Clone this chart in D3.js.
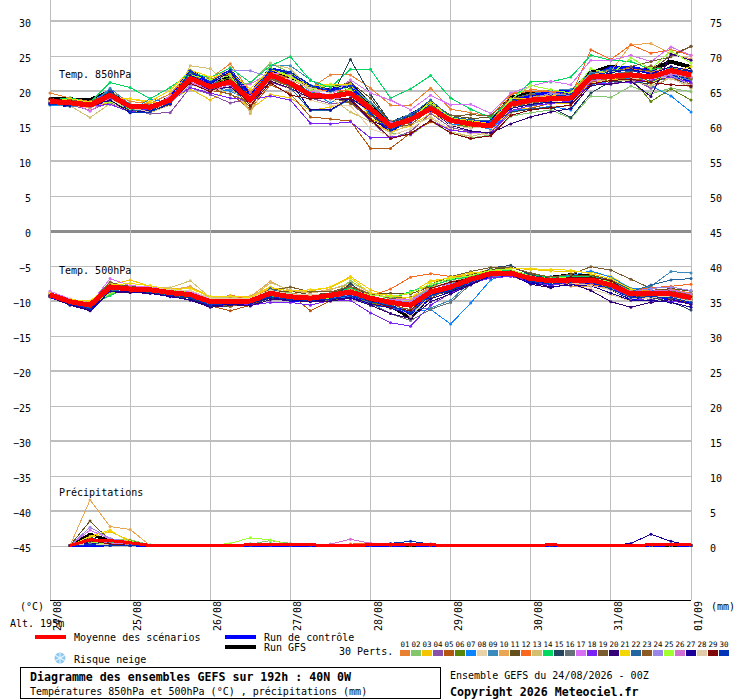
<!DOCTYPE html>
<html>
<head>
<meta charset="utf-8">
<title>Diagramme des ensembles GEFS</title>
<script src="https://cdn.jsdelivr.net/npm/d3@7"></script>
<style>
  html, body { margin: 0; padding: 0; background: #fff; }
  svg { display: block; }
  text { font-family: "DejaVu Sans Mono", "Liberation Mono", monospace; font-size: 10px; fill: #000; }
  .bold { font-weight: bold; font-size: 11.6px; }
</style>
</head>
<body>
<div id="chart"></div>
<script>
// date labels, one every 24h (4 steps of 6h)
var days = ["24/08", "25/08", "26/08", "27/08", "28/08", "29/08", "30/08", "31/08", "01/09"];

var memberColors = ["#e8802f", "#84c66c", "#f2c500", "#8a4fa8", "#b5560f", "#5a8508", "#0a85ff", "#e8d3a8", "#3a8bbb", "#eaa653",
  "#644f1e", "#fa6820", "#d2bf70", "#00d860", "#24455f", "#66727a", "#d870f5", "#7a22f5", "#7a5c2e", "#330077",
  "#f2d800", "#2166a0", "#8c5a22", "#9a85e8", "#a0ff30", "#d070d0", "#1a0099", "#e0caa8", "#800808", "#0033b8"];

var mean850 = [18.5,18.3,18.0,19.4,17.8,17.7,18.7,21.8,20.6,21.3,18.7,22.3,21.1,19.4,19.2,19.7,17.5,15.0,15.9,17.5,15.8,15.3,15.0,18.1,18.7,18.9,19.0,22.0,22.1,22.3,22.0,22.9,22.3];
var control850 = [18.2,18.0,18.1,20.0,17.1,17.3,18.9,22.8,21.2,22.8,19.4,23.1,22.5,20.6,20.0,21.0,17.0,14.2,16.6,17.8,16.0,15.7,15.4,18.5,19.4,19.7,19.9,22.0,23.3,23.3,22.8,22.0,21.6];
var gfs850 = [18.8,18.8,18.7,19.9,17.4,17.3,19.1,22.0,21.0,22.0,18.3,22.8,22.0,20.5,20.1,20.9,18.0,15.4,16.5,18.2,16.0,15.3,15.6,19.0,19.7,19.9,19.8,22.6,23.5,23.0,23.0,24.2,23.4];

var members850 = [
  [19.7,19.0,18.5,19.9,18.5,18.2,19.6,22.7,21.8,23.9,19.8,22.8,21.6,20.4,22.3,22.3,20.4,18.0,18.0,20.4,17.4,16.9,16.4,19.6,20.2,20.0,19.8,22.6,23.0,23.2,22.7,23.4,22.8],
  [18.4,19.0,18.2,18.5,17.4,17.5,18.2,21.4,20.4,21.0,21.1,24.0,22.6,20.8,20.6,20.9,18.2,14.0,13.7,15.7,14.0,13.3,13.7,16.4,16.9,17.3,16.1,19.3,19.1,20.7,19.6,20.4,19.9],
  [18.7,18.4,17.7,18.4,18.9,18.3,18.6,20.3,18.7,20.4,17.4,19.5,19.0,17.2,17.7,18.6,15.6,14.2,15.0,16.8,15.3,14.9,14.7,17.2,17.6,18.2,18.2,21.2,21.6,21.8,21.4,22.8,22.0],
  [18.5,18.0,17.3,18.3,17.1,16.8,16.9,20.5,19.5,18.3,18.9,21.3,20.3,19.0,18.2,18.4,15.7,13.2,14.2,16.8,14.8,14.2,13.8,17.0,18.0,18.2,18.6,21.4,21.0,21.8,20.4,22.0,21.0],
  [18.9,18.4,17.9,19.1,17.6,17.5,18.2,21.2,20.1,19.6,17.4,20.9,19.6,16.3,16.0,15.7,11.8,11.8,14.0,15.6,14.5,14.0,14.1,16.9,17.5,18.3,18.5,21.3,21.8,21.7,21.5,21.8,21.0],
  [18.6,18.5,18.3,19.6,18.0,17.8,18.9,22.4,21.0,21.9,18.9,22.6,21.5,19.8,19.4,20.4,17.9,15.0,15.9,17.9,15.3,14.8,14.8,18.1,18.5,18.8,19.4,21.8,21.4,21.9,18.5,20.3,18.7],
  [18.0,17.9,18.1,20.1,17.1,18.9,18.2,21.5,20.4,20.0,18.5,21.8,20.8,20.0,18.3,20.0,16.5,14.6,15.7,17.6,15.2,15.3,14.5,17.2,17.4,17.8,17.3,20.9,21.4,21.8,20.7,19.3,17.0],
  [18.3,18.1,17.5,18.8,17.5,17.2,18.2,21.0,19.9,20.6,18.0,21.6,20.3,18.7,18.0,17.9,14.6,13.6,14.6,16.4,14.5,13.9,13.8,17.6,18.2,18.5,18.3,21.1,21.5,21.7,22.0,23.0,20.6],
  [18.1,17.8,18.0,20.4,18.1,18.0,18.6,21.9,20.5,20.2,18.7,23.6,23.6,21.6,19.8,20.8,18.4,15.6,16.7,18.2,15.9,15.2,15.1,18.9,19.6,20.1,20.2,22.6,22.9,22.4,21.1,22.1,21.6],
  [18.5,18.2,17.6,19.2,17.9,18.0,18.9,22.9,21.4,23.4,16.8,22.2,21.1,19.6,19.4,19.3,17.0,15.7,16.3,17.8,15.9,15.6,15.1,18.0,19.1,19.4,19.6,22.4,22.8,26.6,26.8,25.3,24.6],
  [18.7,18.6,18.2,19.4,17.6,17.8,18.7,21.5,20.8,21.1,18.2,22.4,22.0,20.5,20.6,21.2,19.0,15.4,16.2,18.5,16.5,16.1,16.2,18.6,19.0,18.9,19.4,21.6,22.0,22.8,22.9,25.1,26.4],
  [18.6,18.1,17.8,19.5,18.0,17.9,19.1,22.2,21.7,22.5,19.2,22.7,21.7,20.3,20.0,20.1,17.3,15.6,16.0,17.7,16.0,15.4,15.3,19.5,20.0,19.9,19.2,25.9,24.5,26.6,25.4,25.9,25.1],
  [18.2,17.9,16.2,18.2,17.2,16.9,18.0,23.6,23.2,20.6,17.0,23.9,23.2,20.2,19.0,17.0,15.6,14.0,15.2,16.2,14.2,13.5,14.2,16.9,17.4,17.7,17.9,21.5,21.4,21.5,20.7,21.9,20.4],
  [18.7,19.0,18.4,21.2,20.5,18.9,20.5,22.6,21.9,23.3,21.2,23.6,24.9,21.5,20.5,23.1,23.1,19.0,20.3,22.2,19.0,17.4,16.2,18.7,21.3,21.3,22.0,25.1,24.4,24.2,23.1,23.3,22.6],
  [18.4,18.1,18.0,20.0,17.8,17.4,18.9,22.7,21.5,22.3,18.8,22.9,22.5,19.3,18.9,24.5,19.5,15.5,16.4,18.0,15.8,15.3,15.2,17.0,17.4,17.7,16.2,19.7,21.4,21.2,21.1,22.2,20.6],
  [18.5,18.3,18.0,19.6,17.7,17.5,18.5,21.2,20.2,21.2,18.6,21.9,20.7,19.2,19.1,19.6,17.0,14.7,15.5,17.5,15.5,15.1,14.9,17.9,18.5,18.9,19.1,22.2,22.4,22.5,21.9,22.4,21.8],
  [18.8,18.5,17.1,19.0,17.4,17.6,19.3,21.1,20.5,20.5,21.0,22.6,22.3,20.0,19.4,21.6,19.7,18.7,17.3,19.4,18.0,18.1,16.8,19.7,20.7,21.4,20.9,24.4,24.4,25.1,24.2,26.3,25.1],
  [18.3,18.0,17.8,18.1,17.0,17.5,18.5,20.5,19.7,19.0,18.7,19.3,18.7,15.4,15.3,15.6,13.3,13.4,13.8,15.8,14.4,14.1,14.0,17.2,17.9,18.2,18.6,21.0,21.1,21.2,21.6,22.0,21.2],
  [18.9,18.7,18.4,19.8,17.9,17.9,18.5,22.0,20.9,21.0,17.6,22.0,21.4,19.4,19.1,18.4,15.9,15.0,15.4,18.0,16.5,16.6,16.5,18.9,19.5,19.2,19.9,21.8,22.6,23.5,24.2,24.9,26.4],
  [18.4,18.0,17.8,18.6,17.2,17.1,18.1,21.6,20.1,20.6,18.3,21.4,20.4,19.0,18.9,18.7,15.8,14.6,15.9,17.3,15.1,14.3,14.0,15.3,16.3,17.0,17.5,20.8,21.0,21.4,19.2,25.3,24.4],
  [18.6,18.9,18.4,19.0,18.9,18.5,20.1,23.0,22.0,22.6,20.3,23.1,22.0,20.6,21.0,21.0,16.0,15.1,15.9,18.6,16.2,15.8,15.3,18.9,18.9,19.3,19.4,22.4,21.7,22.6,21.1,22.6,23.5],
  [18.3,18.1,18.1,19.9,17.3,17.2,18.7,22.5,20.7,22.9,19.0,22.5,20.5,17.2,17.2,18.9,17.3,15.6,16.6,18.7,16.3,15.9,15.7,17.9,17.9,18.7,18.6,22.4,23.2,22.7,21.3,22.6,21.9],
  [18.7,18.5,18.0,19.5,17.9,17.8,18.8,21.8,20.4,19.5,18.4,21.7,20.6,19.5,19.1,18.2,16.5,14.7,15.2,17.3,15.6,15.0,14.9,17.7,18.3,18.6,18.9,22.0,22.3,22.7,23.6,23.0,21.7],
  [18.5,18.3,17.9,19.0,17.7,17.4,18.3,20.8,20.8,22.9,22.9,21.9,21.5,19.1,19.2,19.4,17.7,15.2,15.6,17.2,15.9,15.5,15.2,18.3,18.9,19.7,19.3,21.7,22.2,22.4,21.9,22.2,20.8],
  [18.6,18.4,18.3,18.4,17.5,17.8,18.5,22.3,21.6,22.2,18.2,23.3,22.1,20.2,20.9,20.1,16.8,15.2,16.1,18.3,16.2,15.6,15.3,18.8,20.8,20.2,19.7,23.2,22.4,24.7,23.2,25.7,24.0],
  [18.4,18.2,17.7,19.2,17.6,17.5,18.4,21.3,20.0,20.9,19.2,22.0,21.6,19.2,18.9,19.0,17.0,15.5,15.5,17.4,15.7,15.2,15.0,18.3,18.6,18.7,18.9,21.4,22.0,22.1,21.7,22.4,22.0],
  [18.2,17.9,17.9,18.7,16.9,17.2,18.2,22.2,21.0,22.8,18.6,22.6,21.3,17.3,17.3,19.0,17.1,14.8,15.6,17.2,15.6,15.2,15.0,17.5,18.1,18.4,18.3,21.9,22.6,23.1,22.4,23.5,22.9],
  [18.6,18.3,17.9,19.3,17.6,17.0,18.5,21.4,20.6,21.6,18.1,22.1,21.7,20.4,19.7,19.6,17.4,14.9,15.8,17.7,15.1,14.7,14.8,17.8,18.4,18.9,19.2,21.9,21.8,22.0,22.3,21.7,20.8],
  [18.9,18.6,18.2,19.8,17.7,17.6,18.6,21.1,19.9,21.5,17.9,21.2,19.4,18.9,19.1,18.9,16.0,13.2,13.9,15.8,14.0,13.2,13.6,16.5,17.3,17.6,18.0,21.0,21.5,21.7,21.2,20.9,20.7],
  [18.1,18.0,17.9,19.7,17.0,17.0,18.3,22.9,21.3,23.0,19.0,23.1,22.7,20.8,20.0,20.7,16.8,14.4,15.8,17.6,15.9,15.5,15.1,18.2,18.7,19.2,19.5,21.8,22.9,23.0,22.0,23.2,22.8]
];

var mean500 = [-9.1,-10.1,-10.6,-8.0,-8.3,-8.4,-8.8,-9.1,-10.1,-10.0,-10.0,-8.9,-9.4,-9.6,-9.2,-8.7,-9.6,-10.2,-10.6,-8.7,-8.0,-6.9,-6.1,-6.0,-6.8,-7.1,-7.0,-7.0,-7.7,-9.0,-8.9,-9.0,-9.5];
var control500 = [-9.3,-10.3,-11.2,-8.4,-8.5,-8.7,-9.0,-9.4,-10.5,-10.2,-10.3,-9.3,-9.8,-9.9,-9.6,-9.3,-10.0,-10.6,-11.8,-9.1,-8.3,-7.4,-6.4,-6.1,-7.3,-7.5,-7.2,-7.4,-8.2,-9.6,-9.3,-9.6,-10.1];
var gfs500 = [-9.0,-10.2,-10.9,-8.2,-8.6,-8.4,-8.9,-9.0,-10.1,-10.1,-9.8,-9.0,-9.5,-9.5,-9.3,-9.0,-9.9,-10.6,-12.4,-9.0,-7.9,-6.6,-6.0,-5.8,-6.6,-6.7,-6.3,-6.5,-7.4,-8.7,-8.9,-8.8,-9.2];

var members500 = [
  [-9.0,-10.0,-10.4,-7.7,-8.0,-8.1,-8.7,-8.6,-9.8,-9.2,-9.6,-8.2,-8.9,-9.2,-8.9,-8.2,-9.1,-9.4,-9.8,-7.9,-7.0,-6.4,-5.8,-5.6,-6.3,-6.7,-6.5,-6.6,-7.4,-8.6,-8.5,-8.3,-8.9],
  [-9.2,-10.1,-10.8,-9.0,-8.4,-8.3,-8.7,-9.5,-10.3,-10.2,-10.0,-8.4,-8.8,-9.9,-9.4,-7.1,-8.9,-9.6,-9.9,-8.0,-7.4,-6.4,-5.4,-5.7,-6.5,-6.8,-6.8,-6.9,-7.5,-8.8,-8.7,-8.7,-9.1],
  [-8.9,-9.9,-10.1,-7.7,-7.0,-7.9,-8.3,-8.0,-9.4,-9.4,-9.3,-8.0,-8.7,-8.6,-8.0,-6.5,-8.4,-9.4,-8.9,-7.1,-6.7,-6.2,-5.5,-5.3,-5.5,-5.7,-5.8,-5.9,-6.5,-8.2,-8.8,-9.1,-9.8],
  [-9.3,-10.3,-10.7,-8.3,-8.4,-8.7,-9.1,-9.4,-10.3,-10.3,-10.4,-9.6,-9.8,-9.5,-9.5,-9.2,-10.2,-11.0,-11.5,-9.2,-8.4,-7.3,-6.5,-6.3,-7.2,-7.6,-7.5,-7.4,-7.9,-9.4,-9.8,-9.4,-9.9],
  [-9.1,-10.4,-10.9,-8.3,-8.8,-8.5,-9.0,-9.6,-10.7,-11.4,-10.6,-9.4,-9.0,-11.4,-10.0,-9.6,-10.4,-10.7,-10.6,-8.8,-7.6,-6.9,-6.2,-6.0,-6.6,-7.4,-7.2,-7.1,-8.0,-9.5,-9.2,-9.6,-10.2],
  [-9.2,-10.2,-10.5,-8.9,-8.2,-8.3,-8.8,-8.9,-10.0,-9.9,-9.5,-9.0,-9.8,-9.8,-9.9,-9.5,-10.3,-10.5,-10.7,-9.1,-7.9,-7.2,-6.2,-5.9,-7.0,-7.1,-6.9,-7.3,-8.1,-9.5,-9.3,-9.2,-9.7],
  [-9.3,-10.5,-11.1,-8.5,-8.6,-8.8,-9.2,-9.4,-10.5,-10.0,-10.1,-9.1,-9.6,-9.8,-9.5,-9.4,-10.6,-10.9,-11.6,-11.2,-13.3,-10.3,-7.0,-5.9,-6.5,-6.5,-6.4,-5.7,-6.6,-8.2,-8.4,-8.8,-9.6],
  [-9.0,-10.0,-10.5,-8.1,-8.4,-8.2,-8.6,-8.6,-9.7,-9.8,-10.3,-8.6,-9.0,-9.2,-9.0,-8.4,-9.4,-10.0,-10.2,-8.6,-7.6,-6.9,-6.3,-6.1,-7.0,-7.4,-7.8,-8.3,-9.1,-10.0,-9.5,-9.3,-9.5],
  [-9.0,-10.2,-10.7,-8.2,-8.3,-8.5,-8.8,-9.2,-10.2,-9.9,-9.8,-8.6,-9.2,-9.4,-9.3,-9.0,-10.0,-10.8,-11.2,-11.0,-9.9,-7.3,-6.0,-5.8,-6.5,-6.8,-6.6,-6.4,-7.1,-8.5,-7.9,-5.8,-6.0],
  [-8.8,-9.9,-10.3,-7.6,-8.0,-8.1,-8.5,-7.9,-9.6,-9.7,-9.4,-7.2,-8.6,-8.9,-8.3,-7.7,-9.0,-9.7,-9.5,-8.1,-7.3,-6.7,-6.0,-5.9,-6.7,-7.0,-7.9,-7.9,-8.2,-9.1,-9.1,-8.9,-9.6],
  [-9.1,-10.0,-10.2,-7.4,-7.9,-8.2,-8.7,-9.2,-10.0,-9.7,-9.6,-8.6,-8.6,-9.1,-8.9,-8.0,-9.0,-8.9,-9.0,-7.9,-6.9,-6.3,-5.5,-5.2,-6.1,-6.7,-6.4,-6.3,-7.0,-8.4,-8.7,-8.2,-8.6],
  [-9.0,-10.0,-10.3,-7.8,-8.2,-8.3,-8.6,-9.0,-9.7,-9.4,-9.7,-8.8,-9.1,-9.3,-9.0,-8.3,-9.3,-8.3,-6.6,-6.1,-6.5,-6.5,-5.9,-5.8,-6.4,-6.8,-7.6,-7.7,-7.8,-8.5,-8.1,-7.9,-7.6],
  [-8.9,-9.8,-10.2,-7.5,-8.1,-8.2,-8.1,-7.1,-9.5,-9.5,-9.7,-7.4,-8.4,-8.9,-8.4,-7.4,-8.8,-9.6,-10.0,-8.3,-7.2,-6.7,-6.2,-6.1,-6.8,-7.2,-7.1,-7.1,-7.7,-9.0,-8.8,-8.7,-9.3],
  [-9.2,-10.1,-10.6,-9.2,-8.0,-8.3,-8.9,-9.3,-10.2,-9.9,-9.9,-9.3,-9.3,-9.4,-9.1,-8.1,-9.5,-9.8,-8.6,-7.8,-7.0,-6.5,-5.7,-5.6,-6.3,-6.6,-6.5,-6.5,-7.2,-8.6,-8.9,-8.6,-9.0],
  [-9.4,-10.5,-11.2,-8.4,-8.7,-8.8,-9.3,-9.6,-10.8,-10.7,-10.6,-9.6,-9.9,-10.0,-9.8,-7.5,-9.6,-10.3,-10.9,-9.3,-8.6,-7.5,-5.3,-4.9,-6.3,-6.8,-6.9,-7.2,-8.0,-9.2,-9.5,-10.1,-11.3],
  [-9.2,-10.3,-10.8,-8.5,-8.5,-8.6,-9.0,-9.5,-10.4,-10.3,-10.2,-9.2,-9.7,-9.7,-9.4,-9.1,-10.3,-11.8,-12.8,-11.2,-10.2,-7.6,-6.4,-6.2,-6.9,-7.3,-7.2,-7.1,-7.8,-9.0,-9.1,-9.3,-9.9],
  [-8.6,-9.7,-10.4,-6.8,-7.8,-8.0,-8.4,-8.7,-9.6,-9.9,-9.9,-8.7,-9.4,-9.6,-9.4,-9.1,-9.7,-9.8,-9.8,-8.5,-7.7,-6.8,-6.1,-5.9,-6.8,-7.1,-6.8,-6.9,-7.5,-8.6,-8.9,-8.5,-9.2],
  [-9.1,-10.2,-10.8,-8.6,-8.5,-8.6,-9.1,-9.5,-10.4,-10.4,-10.6,-10.2,-10.2,-10.6,-9.9,-9.9,-11.7,-13.1,-13.6,-10.6,-8.9,-7.5,-6.7,-6.5,-7.2,-7.8,-7.3,-7.3,-8.0,-9.6,-10.0,-10.0,-10.4],
  [-9.0,-10.0,-10.3,-7.3,-8.1,-8.2,-8.7,-8.9,-10.0,-9.6,-9.8,-8.5,-8.0,-8.7,-8.7,-7.9,-9.0,-9.6,-9.5,-7.6,-6.5,-5.8,-5.2,-5.2,-6.0,-6.6,-6.2,-5.1,-5.6,-6.9,-8.2,-8.6,-9.1],
  [-9.4,-10.6,-11.4,-8.7,-8.8,-8.9,-9.3,-9.9,-10.9,-10.6,-10.7,-9.8,-9.9,-10.1,-10.0,-9.6,-10.6,-11.8,-12.5,-10.1,-9.0,-7.7,-6.3,-6.2,-7.6,-8.1,-7.5,-8.5,-10.1,-10.9,-10.2,-9.8,-10.5],
  [-8.9,-9.8,-10.0,-7.7,-7.5,-7.8,-8.4,-8.2,-9.4,-9.3,-9.5,-8.1,-8.6,-8.4,-8.1,-6.7,-8.9,-9.2,-9.6,-7.3,-6.6,-6.0,-5.8,-5.4,-5.4,-5.5,-5.6,-6.1,-6.8,-8.3,-8.8,-9.0,-9.4],
  [-9.2,-10.4,-11.0,-8.4,-8.6,-8.7,-9.1,-9.5,-10.6,-10.2,-10.3,-8.2,-9.4,-9.7,-9.5,-9.0,-10.1,-10.6,-10.7,-9.4,-8.1,-7.0,-6.2,-5.9,-7.0,-7.3,-6.9,-6.8,-7.4,-8.7,-7.7,-7.0,-6.8],
  [-9.1,-10.2,-10.5,-7.9,-8.4,-8.5,-8.9,-9.3,-10.3,-10.8,-10.1,-9.0,-9.3,-9.5,-9.5,-8.8,-9.8,-10.5,-11.3,-9.6,-8.2,-6.8,-6.0,-5.8,-6.9,-7.3,-7.0,-6.6,-7.3,-9.2,-9.4,-9.6,-10.1],
  [-9.1,-10.1,-10.7,-8.1,-8.3,-8.3,-8.6,-9.0,-9.9,-9.8,-9.7,-8.6,-9.3,-9.4,-9.1,-8.6,-9.5,-9.9,-10.1,-8.2,-7.5,-6.9,-6.2,-6.1,-6.8,-7.0,-6.8,-6.8,-7.5,-8.7,-8.2,-8.0,-8.5],
  [-9.3,-10.3,-10.7,-8.9,-8.2,-8.2,-8.5,-8.8,-9.9,-9.8,-10.3,-8.9,-9.6,-9.7,-9.6,-8.4,-9.2,-9.4,-8.8,-7.6,-6.8,-6.4,-5.6,-5.5,-6.5,-6.8,-6.6,-6.7,-7.3,-8.8,-8.9,-8.8,-9.3],
  [-9.2,-10.1,-10.5,-8.0,-8.2,-8.4,-8.9,-9.1,-9.8,-10.0,-9.9,-8.8,-9.2,-9.5,-9.1,-8.8,-9.7,-10.1,-10.3,-8.9,-8.1,-7.0,-6.2,-6.2,-6.7,-7.0,-6.9,-7.0,-7.6,-8.8,-8.6,-8.4,-9.0],
  [-9.3,-10.5,-11.3,-8.6,-8.7,-8.9,-9.4,-9.8,-10.7,-10.5,-10.4,-9.5,-9.9,-10.0,-9.8,-9.5,-10.4,-11.0,-12.0,-9.7,-8.7,-7.6,-6.4,-6.1,-7.3,-8.0,-7.7,-7.8,-8.9,-9.9,-9.9,-10.2,-10.9],
  [-9.0,-10.0,-10.4,-8.0,-8.3,-8.1,-8.4,-8.5,-9.6,-9.7,-9.6,-8.5,-9.0,-9.1,-9.0,-8.5,-9.4,-10.2,-12.2,-9.2,-8.0,-6.9,-6.3,-6.1,-6.7,-7.1,-7.4,-7.8,-8.4,-9.6,-9.5,-9.5,-10.0],
  [-9.2,-10.2,-10.6,-7.8,-8.6,-8.4,-8.8,-9.2,-10.2,-10.1,-10.2,-9.1,-9.7,-9.8,-9.4,-8.9,-10.0,-10.9,-11.4,-8.2,-7.3,-6.7,-6.0,-5.8,-6.6,-7.1,-6.6,-6.6,-7.1,-8.9,-9.0,-8.8,-9.4],
  [-9.3,-10.4,-11.1,-8.3,-8.5,-8.7,-9.1,-9.5,-10.6,-10.3,-10.3,-9.4,-9.8,-9.9,-9.7,-9.2,-10.1,-10.7,-11.7,-9.2,-8.4,-7.3,-6.3,-6.0,-7.2,-7.6,-7.3,-7.3,-8.3,-9.5,-9.4,-9.5,-10.2]
];

// rain in mm, first value is at +6h, rows stop at the last wet step
var meanRain = [0,0.8,0.7,0.4,0,0,0,0,0,0.1,0.1,0.1,0.1,0,0,0.1,0.1,0.1,0.1,0,0,0,0,0,0.1,0,0,0,0,0.1,0.1,0.1];
var controlRain = [0,0,0.1,0.1,0,0,0,0,0,0,0,0,0,0,0,0,0,0.1,0,0,0,0,0,0,0,0,0,0,0,0,0.1];
var gfsRain = [0,1.6,0.7,0.2,0,0,0,0,0,0,0,0.1];
var membersRain = [
  [0,0.6,0.4,0.2],
  [0,0.5,0.8,0.8,0.1,0,0,0,0,0.2,0.7,0.3],
  [0,1.1,2.0,0.7],
  [0,0.6,0.2],
  [0,0.3,0.2,0.1],
  [0,0.2,0.5,0.7],
  [0,0.2],
  [0,0.4,0.1],
  [0,0.5,0.3,0.1],
  [0,6.5,2.7,2.3],
  [0,3.5,0.7,0.3],
  [0,0.8,0.2,0.1,0,0,0,0,0,0,0,0,0,0,0.2,0.3,0.2],
  [0,0.4,0.2],
  [0,0.3,0.4,0.3,0,0,0,0,0,0.2,0.3],
  [0,1.2,0.3],
  [0,0.4],
  [0,2.2,0.9,0.6],
  [0,1.0,0.2],
  [0,0.3,0.1],
  [0,0.5,0.3],
  [0,1.3,2.2,0.4],
  [0,0.4,0.1],
  [0,0.3],
  [0,2.6,1.0,0.5],
  [0,0.4,0.3,0.6,0,0,0,0,0.3,1.1,0.8,0.1],
  [0,0.7,0.3,0.2,0,0,0,0,0,0,0,0,0,0.2,0.9,0.3],
  [0,0.3,0,0,0,0,0,0,0,0,0,0,0,0,0,0,0,0,0,0,0,0,0,0,0,0,0,0,0.3,1.6,0.6],
  [0,0.2,0.1],
  [0,0.7,0.2],
  [0,0.1,0,0,0,0,0,0,0,0,0,0,0,0,0,0,0.3,0.6,0.2]
];

var width = 740, height = 700;
var x0 = 50, x1 = 691, yTop = 21, yBottom = 546;

var xScale = d3.scaleLinear().domain([0, 32]).range([x0, x1]);
var yTemp = d3.scaleLinear().domain([30, -45]).range([yTop, yBottom]);
var yRight = d3.scaleLinear().domain([75, 0]).range([yTop, yBottom]);
var yRain = d3.scaleLinear().domain([0, 5]).range([yBottom - 0.5, yBottom - 35.5]);

var svg = d3.select("#chart").append("svg")
  .attr("width", width)
  .attr("height", height);

// horizontal grid, every second line is heavier
var gridLevels = d3.range(30, -50, -5);
svg.append("g").selectAll("line")
  .data(gridLevels)
  .join("line")
  .attr("x1", x0).attr("x2", x1)
  .attr("y1", yTemp).attr("y2", yTemp)
  .attr("stroke", function (d) { return d === 0 ? "#8c8c8c" : "#bebebe"; })
  .attr("stroke-width", function (d) { return d === 0 ? 3 : (d % 10 === 0 ? 2 : 1); })
  .attr("shape-rendering", "crispEdges");

// vertical grid
svg.append("g").selectAll("line")
  .data(days)
  .join("line")
  .attr("x1", function (d, i) { return xScale(i * 4); })
  .attr("x2", function (d, i) { return xScale(i * 4); })
  .attr("y1", 0).attr("y2", 600)
  .attr("stroke", "#bebebe")
  .attr("shape-rendering", "crispEdges");

svg.append("line")
  .attr("x1", x0).attr("x2", x1)
  .attr("y1", 600).attr("y2", 600)
  .attr("stroke", "#000")
  .attr("shape-rendering", "crispEdges");

// axes
var axisLeft = d3.axisLeft(yTemp).tickValues(gridLevels).tickSize(0).tickPadding(0);
svg.append("g")
  .attr("transform", "translate(31,5.5)")
  .call(axisLeft)
  .call(function (g) { g.select(".domain").remove(); })
  .selectAll("text").attr("dy", 0);

var axisRight = d3.axisRight(yRight).tickValues(d3.range(0, 80, 5)).tickSize(0).tickPadding(0);
svg.append("g")
  .attr("transform", "translate(710,5.5)")
  .call(axisRight)
  .call(function (g) { g.select(".domain").remove(); })
  .selectAll("text").attr("dy", 0);

d3.selectAll("svg g").attr("font-family", null).attr("font-size", null);

// date labels
svg.append("g").selectAll("text")
  .data(days)
  .join("text")
  .attr("transform", function (d, i) { return "translate(" + (xScale(i * 4) + 11) + ",631) rotate(-90)"; })
  .text(function (d) { return d; });

var line = d3.line()
  .x(function (d) { return xScale(d.step); })
  .y(function (d) { return d.y; })
  .curve(d3.curveLinear);

// rows -> points, first is the step of the first value
function toPoints(values, first, yScale) {
  return values.map(function (v, i) { return { step: first + i, y: yScale(v) }; });
}

function padRain(values) {
  return values.concat(d3.range(32 - values.length).map(function () { return 0; }));
}

function drawMembers(rows, first, yScale) {
  var g = svg.append("g").attr("class", "members");
  rows.forEach(function (row, m) {
    var pts = toPoints(row, first, yScale);
    g.append("path")
      .attr("d", line(pts))
      .attr("fill", "none")
      .attr("stroke", memberColors[m])
      .attr("stroke-width", 1)
      .attr("shape-rendering", "crispEdges");
    g.selectAll("circle.m" + m)
      .data(pts)
      .join("circle")
      .attr("class", "m" + m)
      .attr("cx", function (d) { return xScale(d.step); })
      .attr("cy", function (d) { return d.y; })
      .attr("r", 1.5)
      .attr("fill", memberColors[m]);
  });
}

function drawMain(row, first, yScale, color, w) {
  svg.append("path")
    .attr("d", line(toPoints(row, first, yScale)))
    .attr("fill", "none")
    .attr("stroke", color)
    .attr("stroke-width", w)
    .attr("stroke-linejoin", "round")
    .attr("shape-rendering", "crispEdges");
}

// run lines go under the members, the mean stays on top
drawMain(gfs850, 0, yTemp, "#000", 4);
drawMain(control850, 0, yTemp, "#0000ff", 4);
drawMembers(members850, 0, yTemp);
drawMain(mean850, 0, yTemp, "#ff0000", 5);

drawMain(gfs500, 0, yTemp, "#000", 4);
drawMain(control500, 0, yTemp, "#0000ff", 4);
drawMembers(members500, 0, yTemp);
drawMain(mean500, 0, yTemp, "#ff0000", 5);

drawMain(padRain(gfsRain), 1, yRain, "#000", 3);
drawMain(padRain(controlRain), 1, yRain, "#0000ff", 3);
drawMembers(membersRain.map(padRain), 1, yRain);
drawMain(padRain(meanRain), 1, yRain, "#ff0000", 3);

// panel titles and units
function label(x, y, str, cls) {
  return svg.append("text").attr("x", x).attr("y", y).attr("class", cls || null).text(str);
}
label(59, 78, "Temp. 850hPa");
label(59, 274, "Temp. 500hPa");
label(59, 496, "Précipitations");
label(20, 610, "(°C)");
label(711, 610, "(mm)");
label(10, 627, "Alt. 195m");

// legend
function legendLine(x, y, color) {
  svg.append("rect").attr("x", x).attr("y", y - 2).attr("width", 31).attr("height", 4).attr("fill", color);
}
legendLine(35, 637, "#ff0000");
legendLine(225, 637, "#0000ff");
legendLine(225, 647, "#000");
label(74, 641, "Moyenne des scénarios");
label(264, 641, "Run de contrôle");
label(264, 651, "Run GFS");
label(74, 663, "Risque neige");
label(339, 655, "30 Perts.");

// snow flake
var flake = svg.append("g").attr("transform", "translate(60,658)");
flake.append("circle").attr("r", 5.5).attr("fill", "#8fc8ee");
flake.selectAll("line")
  .data([0, 60, 120])
  .join("line")
  .attr("x1", -5.5).attr("x2", 5.5).attr("y1", 0).attr("y2", 0)
  .attr("transform", function (d) { return "rotate(" + (d + 30) + ")"; })
  .attr("stroke", "#e8f6ff")
  .attr("stroke-width", 1);

var swatchScale = d3.scaleBand()
  .domain(d3.range(memberColors.length))
  .range([400, 730]);
var swatches = svg.append("g");
swatches.selectAll("rect")
  .data(memberColors)
  .join("rect")
  .attr("x", function (d, i) { return swatchScale(i); })
  .attr("y", 650)
  .attr("width", 10)
  .attr("height", 6)
  .attr("fill", function (d) { return d; });
swatches.selectAll("text")
  .data(memberColors)
  .join("text")
  .attr("x", function (d, i) { return swatchScale(i) + 5; })
  .attr("y", 647)
  .attr("text-anchor", "middle")
  .style("font-size", "7.5px")
  .text(function (d, i) { return d3.format("02d")(i + 1); });

// title block
svg.append("rect")
  .attr("x", 20.5).attr("y", 667.5)
  .attr("width", 420).attr("height", 31)
  .attr("fill", "none").attr("stroke", "#000")
  .attr("shape-rendering", "crispEdges");
label(30, 681, "Diagramme des ensembles GEFS sur 192h : 40N 0W", "bold");
label(30, 695, "Températures 850hPa et 500hPa (°C) , précipitations (mm)");
label(450, 679, "Ensemble GEFS du 24/08/2026 - 00Z");
label(450, 696, "Copyright 2026 Meteociel.fr", "bold");
</script>
</body>
</html>
